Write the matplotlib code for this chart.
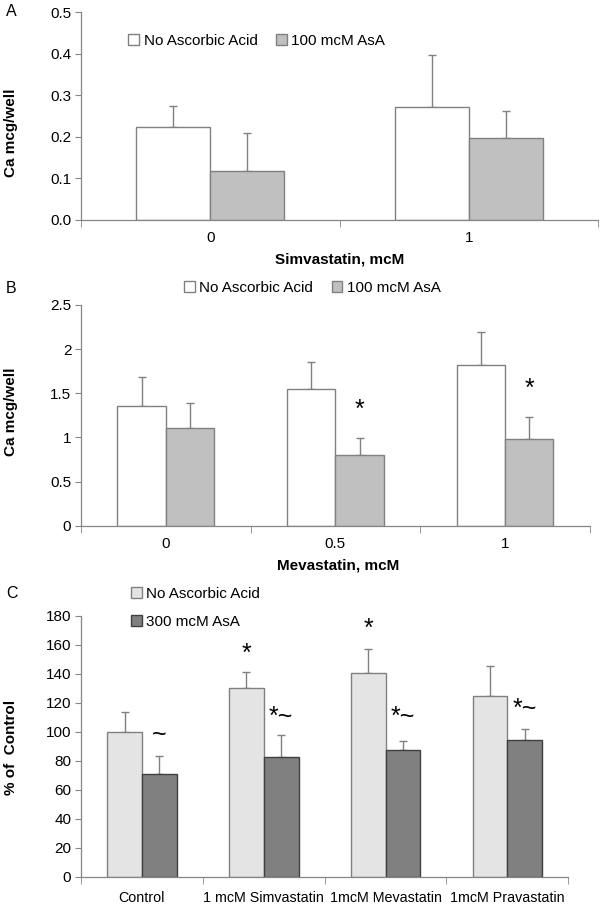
import numpy as np
import matplotlib.pyplot as plt

plt.rcParams['font.family'] = ['Liberation Sans', 'DejaVu Sans']
plt.rcParams['font.size'] = 11

# Panel A - Simvastatin
a_cats = ['0', '1']
a_none = [0.224, 0.271]
a_none_err = [0.049, 0.125]
a_asa = [0.118, 0.198]
a_asa_err = [0.090, 0.065]

# Panel B - Mevastatin
b_cats = ['0', '0.5', '1']
b_none = [1.356, 1.545, 1.816]
b_none_err = [0.324, 0.305, 0.378]
b_asa = [1.103, 0.797, 0.978]
b_asa_err = [0.290, 0.200, 0.253]
b_asa_marks = ['', '*', '*']
b_asa_mark_y = [0, 1.31, 1.545]

# Panel C - % of control
c_cats = ['Control', '1 mcM Simvastatin', '1mcM Mevastatin', '1mcM Pravastatin']
c_none = [100, 129.9, 140.3, 124.7]
c_none_err = [13.4, 11.1, 17.0, 20.8]
c_asa = [70.7, 82.6, 87.7, 94.4]
c_asa_err = [12.4, 15.0, 6.2, 7.8]
c_none_marks = ['', '*', '*', '']
c_none_mark_y = [0, 154, 171, 0]
c_asa_marks = ['~', '*~', '*~', '*~']
c_asa_mark_y = [97.8, 110.4, 110.4, 115.5]

W = 1 / 3.5  # excel gap width 150%
AX_COL = '#868686'


def bars(ax, cats, s1, e1, s2, e2, c1, c2, lab1, lab2, edge2='#808080'):
    x = np.arange(len(cats))
    ax.bar(x - W / 2, s1, W, color=c1, edgecolor='#808080', linewidth=1, label=lab1, zorder=2)
    ax.bar(x + W / 2, s2, W, color=c2, edgecolor=edge2, linewidth=1, label=lab2, zorder=2)
    ax.errorbar(x - W / 2, s1, yerr=[np.zeros(len(x)), e1], fmt='none', ecolor='#808080',
                elinewidth=1, capsize=3, capthick=1, zorder=1)
    ax.errorbar(x + W / 2, s2, yerr=[np.zeros(len(x)), e2], fmt='none', ecolor='#808080',
                elinewidth=1, capsize=3, capthick=1, zorder=1)
    ax.set_xlim(-0.5, len(cats) - 0.5)
    ax.set_xticks(x)
    ax.set_xticklabels(cats)
    ax.set_xticks(np.arange(len(cats) + 1) - 0.5, minor=True)
    ax.tick_params(axis='x', which='major', length=0, pad=8)
    ax.tick_params(axis='x', which='minor', length=5, color=AX_COL)
    ax.tick_params(axis='y', length=4, color=AX_COL, pad=3)
    for s in ['top', 'right']:
        ax.spines[s].set_visible(False)
    for s in ['left', 'bottom']:
        ax.spines[s].set_color(AX_COL)
        ax.spines[s].set_linewidth(0.9)
    return x


fig = plt.figure(figsize=(6, 9.05), dpi=100)

# ---- A
axA = fig.add_axes([0.135, 0.757, 0.862, 0.2297])
bars(axA, a_cats, a_none, a_none_err, a_asa, a_asa_err, 'white', '#c0c0c0',
     'No Ascorbic Acid', '100 mcM AsA')
axA.set_ylim(0, 0.5)
axA.set_yticks(np.arange(0, 0.51, 0.1))
axA.set_yticklabels(['%.1f' % v for v in np.arange(0, 0.51, 0.1)])
axA.legend(loc='center left', bbox_to_anchor=(0.08, 0.86), ncol=2, frameon=False,
           handlelength=0.7, handleheight=0.7, handletextpad=0.3, columnspacing=1.2,
           borderaxespad=0)

# ---- B
axB = fig.add_axes([0.135, 0.419, 0.848, 0.244])
xb = bars(axB, b_cats, b_none, b_none_err, b_asa, b_asa_err, 'white', '#c0c0c0',
          'No Ascorbic Acid', '100 mcM AsA')
axB.set_ylim(0, 2.5)
axB.set_yticks([0, 0.5, 1, 1.5, 2, 2.5])
axB.set_yticklabels(['0', '0.5', '1', '1.5', '2', '2.5'])
for i, m in enumerate(b_asa_marks):
    if m:
        axB.text(xb[i] + W / 2, b_asa_mark_y[i], m, ha='center', va='center', fontsize=18)
axB.legend(loc='center', bbox_to_anchor=(0.455, 1.077), ncol=2, frameon=False,
           handlelength=0.7, handleheight=0.7, handletextpad=0.3, columnspacing=1.2,
           borderaxespad=0)

# ---- C
axC = fig.add_axes([0.135, 0.031, 0.812, 0.2887])
xc = bars(axC, c_cats, c_none, c_none_err, c_asa, c_asa_err, '#e4e4e4', '#808080',
          'No Ascorbic Acid', '300 mcM AsA', edge2='#404040')
axC.set_ylim(0, 180)
axC.set_yticks(np.arange(0, 181, 20))
axC.tick_params(axis='x', which='major', pad=10, labelsize=10.3)
for i in range(len(c_cats)):
    if c_none_marks[i]:
        axC.text(xc[i] - W / 2, c_none_mark_y[i], c_none_marks[i], ha='center', va='center', fontsize=18)
    if c_asa_marks[i]:
        axC.text(xc[i] + W / 2, c_asa_mark_y[i], c_asa_marks[i], ha='center', va='center', fontsize=18)
axC.legend(loc='center left', bbox_to_anchor=(0.09, 1.03), ncol=1, frameon=False,
           handlelength=0.7, handleheight=0.7, handletextpad=0.3, labelspacing=0.95,
           borderaxespad=0)

# labels
bold = dict(fontsize=11, fontweight='bold')
fig.text(0.018, 1 - 133 / 905, 'Ca mcg/well', rotation=90, ha='center', va='center', **bold)
fig.text(0.018, 1 - 412 / 905, 'Ca mcg/well', rotation=90, ha='center', va='center', **bold)
fig.text(0.018, 1 - 747 / 905, '% of  Control', rotation=90, ha='center', va='center', **bold)
fig.text(340 / 600, 1 - 260 / 905, 'Simvastatin, mcM', ha='center', va='center', **bold)
fig.text(338 / 600, 1 - 565 / 905, 'Mevastatin, mcM', ha='center', va='center', **bold)

for lab, yy in [('A', 12), ('B', 288), ('C', 594)]:
    fig.text(0.01, 1 - yy / 905, lab, ha='left', va='center', fontsize=11.5)

fig.savefig('out.png', dpi=100)
